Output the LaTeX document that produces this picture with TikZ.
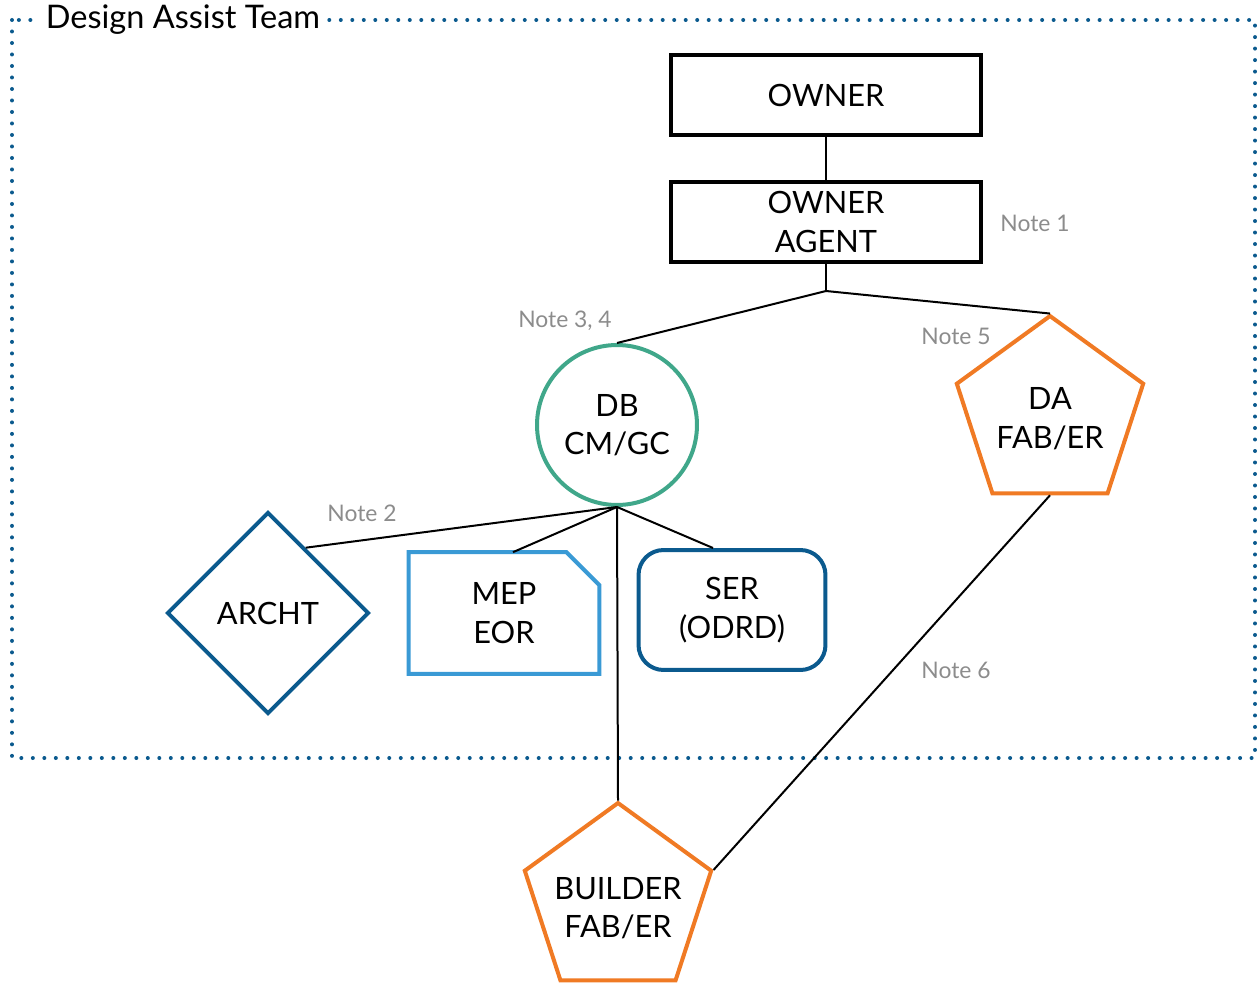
\documentclass[tikz,border=0pt]{standalone}
\usepackage{fontspec}
\setmainfont{Lato}
\usetikzlibrary{shapes}
\definecolor{dbgreen}{HTML}{40A78A}
\definecolor{faborange}{HTML}{F07A24}
\definecolor{darkblue}{HTML}{0B5A8E}
\definecolor{lightblue}{HTML}{3A9AD5}
\definecolor{notegray}{HTML}{8C8C8C}
\tikzstyle{box} = [rectangle, minimum width=6.2cm, minimum height=1.6cm, align=center, draw=black, line width=0.08cm]
\tikzstyle{pent} = [regular polygon, regular polygon sides=5, minimum size=3.92cm, inner sep=0pt, draw=faborange, line width=0.08cm]
\tikzstyle{note} = [text=notegray, font=\fontsize{13}{15}\selectfont]
\tikzstyle{conn} = [draw=black, line width=0.04cm]

\begin{document}
\begin{tikzpicture}[x=0.02cm,y=-0.02cm,font=\fontsize{17.5}{22}\selectfont]
			\useasboundingbox (0,0) rectangle (1257,983);
			\draw[darkblue, line width=0.08cm, dash pattern=on 0pt off 0.23cm, line cap=round] (12,20) rectangle (1255,758);
			\node[fill=white, inner sep=0.14cm, font=\fontsize{18.5}{22}\selectfont](title) at (183,20){Design Assist Team};
			
			\node[box](owner) at (826,95){OWNER};
			\node[box](agent) at (826,222){OWNER\\AGENT};
			\coordinate (split) at (826,291);
			\node[circle, draw=dbgreen, line width=0.08cm, minimum size=3.2cm, align=center](db) at (617,425){DB\\CM/GC};
			\node[pent](da) at (1050,414){};
			\node[align=center](datext) at (1050,419){DA\\FAB/ER};
			\node[pent](builder) at (618,901){};
			\node[align=center](buildertext) at (618,908){BUILDER\\FAB/ER};
			\node[diamond, aspect=1, draw=darkblue, line width=0.08cm, minimum width=4.04cm, minimum height=4.04cm, inner sep=0pt](archt) at (268,613){ARCHT};
			\node[minimum width=3.8cm, minimum height=2.42cm, align=center](mep) at (504,613){MEP\\EOR};
			\draw[lightblue, line width=0.08cm] (mep.south west) -- (mep.north west) -- ([xshift=-0.66cm]mep.north east) -- ([yshift=-0.66cm]mep.north east) -- (mep.south east) -- cycle;
			\node[rectangle, rounded corners=0.5cm, draw=darkblue, line width=0.08cm, minimum width=3.74cm, minimum height=2.4cm, align=center](ser) at (732,610){SER\\(ODRD)};
			
			\node[note](n1) at (1035,223){Note 1};
			\node[note](n2) at (362,513){Note 2};
			\node[note](n34) at (565,321){Note 3, 4};
			\node[note](n5) at (956,336){Note 5};
			\node[note](n6) at (956,670){Note 6};
			
			\draw[conn] (owner)--(agent)--(split);
			\draw[conn] (split)--(db.north);
			\draw[conn] (split)--(da.corner 1);
			\draw[conn] (db.south)--(archt.60);
			\draw[conn] (db.south)--([xshift=0.18cm]mep.north);
			\draw[conn] (db.south)--([xshift=-0.38cm]ser.north);
			\draw[conn] (db.south)--(builder.corner 1);
			\draw[conn] (da.south)--(builder.corner 5);
			\end{tikzpicture}
\end{document}
